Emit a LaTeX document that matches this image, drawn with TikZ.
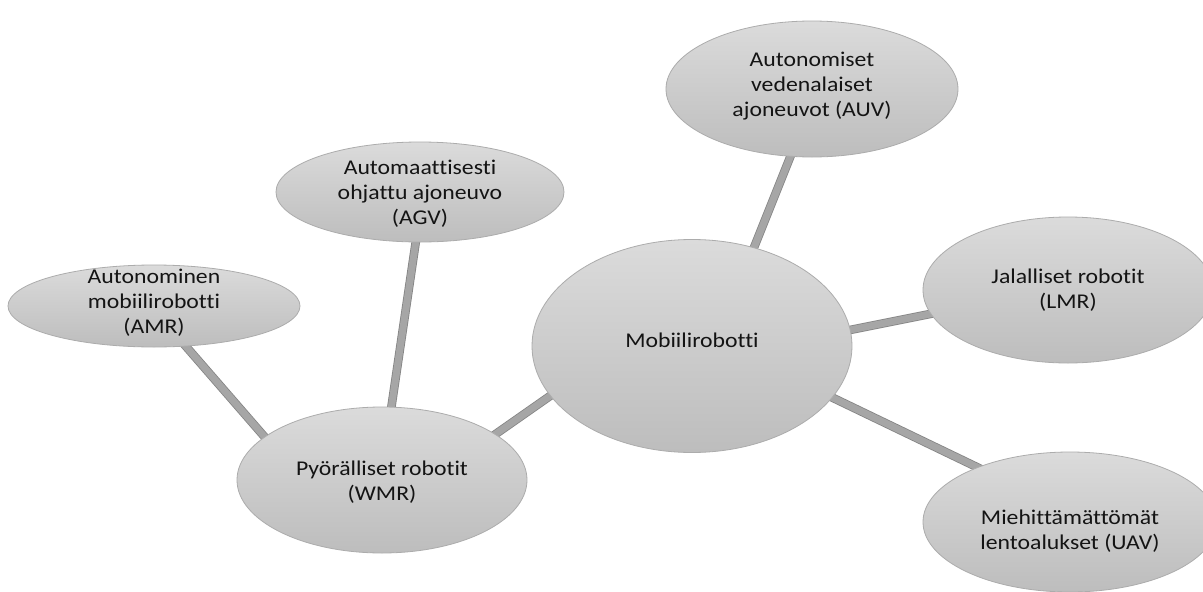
\documentclass[tikz,border=0pt]{standalone}
\usepackage{fontspec}
\setmainfont{Carlito}[FakeStretch=1.13, Ligatures=NoCommon]
\usetikzlibrary{shapes.geometric,backgrounds}
\definecolor{elltop}{RGB}{219,219,219}
\definecolor{ellbot}{RGB}{189,189,189}
\definecolor{ellline}{RGB}{172,172,172}
\definecolor{connfill}{RGB}{166,166,166}
\definecolor{connedge}{RGB}{132,132,132}
\definecolor{txt}{RGB}{20,20,20}
\begin{document}
\begin{tikzpicture}[x=1pt,y=-1pt,
  bubble/.style={ellipse, draw=ellline, line width=0.8pt, top color=elltop, bottom color=ellbot, inner sep=0pt},
  bubbletext/.style={align=center, inner sep=0pt, text=txt, font=\fontsize{21}{25}\selectfont},
  conn/.style={draw=connedge, line width=0.8pt, double=connfill, double distance=7pt}]
\path[use as bounding box] (0,0) rectangle (1203,592);
\clip (0,0) rectangle (1203,592);

\node[bubble, minimum width=292pt, minimum height=82pt]  (amr) at (154,306) {};
\node[bubble, minimum width=288pt, minimum height=100pt] (agv) at (420,192) {};
\node[bubble, minimum width=292pt, minimum height=136pt] (auv) at (812,89) {};
\node[bubble, minimum width=320pt, minimum height=213pt] (mob) at (692,346) {};
\node[bubble, minimum width=290pt, minimum height=146pt] (jal) at (1068,290) {};
\node[bubble, minimum width=294pt, minimum height=140pt] (uav) at (1070,522) {};
\node[bubble, minimum width=290pt, minimum height=146pt] (wmr) at (382,480) {};

\node[bubbletext] (amrt) at (154,303) {Autonominen\\mobiilirobotti\\(AMR)};
\node[bubbletext] (agvt) at (420,194) {Automaattisesti\\ohjattu ajoneuvo\\(AGV)};
\node[bubbletext] (auvt) at (812,86) {Autonomiset\\vedenalaiset\\ajoneuvot (AUV)};
\node[bubbletext] (mobt) at (692,340) {Mobiilirobotti};
\node[bubbletext] (jalt) at (1068,290) {Jalalliset robotit\\(LMR)};
\node[bubbletext] (uavt) at (1070,531) {Miehittämättömät\\lentoalukset (UAV)};
\node[bubbletext] (wmrt) at (382,482) {Pyörälliset robotit\\(WMR)};

\begin{scope}[on background layer]
\fill[white] (0,0) rectangle (1203,592);
\draw[conn] ([shift={(9,14)}]amr.center) -- ([shift={(-106,-30)}]wmr.center);
\draw[conn] ([shift={(-1,28)}]agv.center) -- ([shift={(6,-50)}]wmr.center);
\draw[conn] ([shift={(88,-28)}]wmr.center) -- ([shift={(-112,29)}]mob.center);
\draw[conn] ([shift={(55,-81)}]mob.center) -- ([shift={(-11,41)}]auv.center);
\draw[conn] ([shift={(128,-10)}]mob.center) -- ([shift={(-108,18)}]jal.center);
\draw[conn] ([shift={(108,36)}]mob.center) -- ([shift={(-60,-39)}]uav.center);
\end{scope}
\end{tikzpicture}
\end{document}
